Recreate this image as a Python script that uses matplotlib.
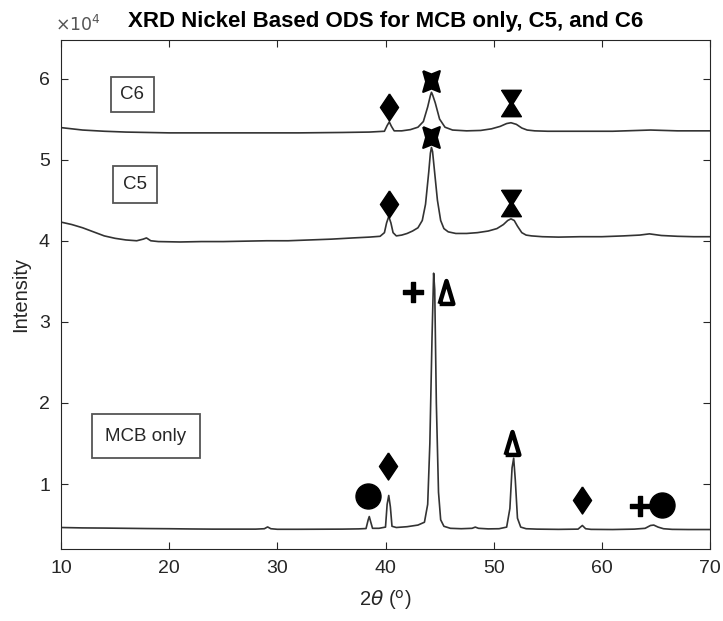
import matplotlib
matplotlib.use("Agg")
import matplotlib.pyplot as plt
from matplotlib.path import Path
from matplotlib.markers import MarkerStyle
from matplotlib.ticker import FuncFormatter

plt.rcParams['font.family'] = ['Liberation Sans', 'DejaVu Sans']

# ---- data (2theta in degrees, intensity in counts) ----
mcb_x = [10, 12, 14, 16, 18, 20, 22, 24, 26, 28, 28.8, 29.1, 29.4, 30, 32, 34, 36,
         37.5, 38.2, 38.4, 38.5, 38.6, 38.8, 39.4, 40.0, 40.15, 40.3, 40.45, 40.6,
         41.0, 42.0, 43.0, 43.6, 43.9, 44.1, 44.3, 44.45, 44.55, 44.7, 44.9, 45.1,
         45.4, 46, 47, 48, 48.3, 48.6, 49.5, 50.5, 51.2, 51.5, 51.7, 51.85, 52.0,
         52.2, 52.5, 53, 54, 56, 57.8, 58.2, 58.5, 59, 61, 63, 64.0, 64.5, 64.8,
         65.2, 65.7, 66.5, 68, 70]
mcb_y = [4650, 4600, 4580, 4550, 4520, 4500, 4470, 4450, 4450, 4450, 4500, 4720, 4500,
         4430, 4430, 4440, 4450, 4480, 4520, 5600, 6000, 5500, 4550, 4550, 4700, 7500,
         8600, 7200, 4800, 4650, 4750, 4950, 5300, 7500, 15000, 28000, 36000, 34000,
         20000, 9000, 5600, 4800, 4550, 4500, 4550, 4700, 4550, 4480, 4500, 4700, 7000,
         12000, 13200, 10500, 5800, 4700, 4500, 4450, 4420, 4450, 4900, 4500, 4420,
         4400, 4450, 4550, 4900, 4950, 4700, 4500, 4420, 4400, 4400]

c5_x = [10, 11, 12, 13, 14, 15, 16, 17, 17.6, 17.9, 18.3, 19, 21, 23, 25, 27, 29, 31,
        33, 35, 37, 38.5, 39.5, 39.9, 40.1, 40.3, 40.5, 40.7, 41.0, 41.5, 42.0, 42.5,
        43.0, 43.4, 43.7, 44.0, 44.15, 44.25, 44.35, 44.5, 44.8, 45.1, 45.4, 45.8, 46.5,
        47.5, 48.5, 49.5, 50.3, 50.9, 51.3, 51.6, 51.9, 52.2, 52.6, 53.0, 53.5, 54.5,
        56, 58, 60, 62, 63.5, 64.4, 65.5, 67, 68.5, 70]
c5_y = [42300, 42000, 41600, 41100, 40600, 40300, 40100, 40000, 40200, 40350, 40000,
        39900, 39850, 39900, 39900, 39950, 40000, 40000, 40100, 40200, 40350, 40450,
        40550, 41000, 42200, 43000, 42200, 41000, 40600, 40700, 40900, 41200, 41600,
        42500, 44500, 48500, 50800, 51500, 51000, 49000, 45000, 42500, 41500, 41100,
        40900, 40900, 41000, 41200, 41500, 42000, 42500, 42700, 42500, 41800, 41000,
        40700, 40600, 40500, 40450, 40500, 40500, 40600, 40700, 40850, 40650, 40550,
        40500, 40500]

c6_x = [10, 11, 12, 14, 16, 18, 20, 24, 28, 32, 36, 38.5, 39.9, 40.15, 40.35, 40.55,
        40.8, 41.5, 42.3, 43.0, 43.5, 43.9, 44.15, 44.25, 44.35, 44.6, 45.0, 45.5, 46.2,
        47.5, 48.8, 49.8, 50.6, 51.2, 51.6, 52.1, 52.6, 53.1, 53.8, 55, 58, 61, 64.5,
        67, 70]
c6_y = [53950, 53800, 53650, 53500, 53400, 53350, 53300, 53300, 53300, 53300, 53350,
        53400, 53500, 54200, 54650, 54100, 53550, 53550, 53700, 54000, 54700, 56500,
        57900, 58300, 58000, 57000, 55000, 54000, 53650, 53550, 53600, 53800, 54100,
        54450, 54550, 54350, 53900, 53650, 53550, 53500, 53500, 53500, 53650, 53550,
        53550]

# phase markers
circle_x, circle_y = [38.4, 65.6], [8500, 7400]
diamond_x, diamond_y = [40.26, 58.18, 40.34, 40.34], [12260, 8030, 44530, 56520]
plus_x, plus_y = [42.56, 63.5], [33640, 7290]
tri_x, tri_y = [45.58, 51.74], [33640, 15020]
cross_x, cross_y = [44.17, 44.17], [52750, 59730]
hglass_x, hglass_y = [51.56, 51.56], [44690, 56940]

labels = ['C6', 'C5', 'MCB only']

# ---- marker shapes ----
diamond = Path([(0, 1), (0.67, 0), (0, -1), (-0.67, 0), (0, 1)])
plus = Path([(-0.22, 1), (0.22, 1), (0.22, 0.22), (1, 0.22), (1, -0.22), (0.22, -0.22),
             (0.22, -1), (-0.22, -1), (-0.22, -0.22), (-1, -0.22), (-1, 0.22),
             (-0.22, 0.22), (-0.22, 1)])
tri = Path([(-0.6, -1), (0.6, -1), (0, 1), (-0.6, -1)])
cross = Path([(-0.8, 1), (0, 0.68), (0.8, 1), (0.52, 0), (0.8, -1), (0, -0.68),
              (-0.8, -1), (-0.52, 0), (-0.8, 1)])
hglass = Path([(-0.75, 1), (0.75, 1), (0.12, 0), (0.75, -1), (-0.75, -1), (-0.12, 0),
               (-0.75, 1)])

fig = plt.figure(figsize=(7.23, 6.21), dpi=100)
ax = fig.add_axes([61 / 723, 1 - 549 / 621, 649 / 723, 509 / 621])

line_kw = dict(color='#333333', lw=1.2)
ax.plot(mcb_x, mcb_y, **line_kw)
ax.plot(c5_x, c5_y, **line_kw)
ax.plot(c6_x, c6_y, **line_kw)

mk = dict(ls='none', color='black', mec='black')
ax.plot(circle_x, circle_y, marker='o', ms=18, **mk)
ax.plot(diamond_x, diamond_y, marker=diamond, ms=19.5, **mk)
ax.plot(plus_x, plus_y, marker=plus, ms=14, **mk)
ax.plot(cross_x, cross_y, marker=MarkerStyle(cross, joinstyle='round'), ms=15, mew=1.5, **mk)
ax.plot(hglass_x, hglass_y, marker=MarkerStyle(hglass, joinstyle='round'), ms=19, **mk)
ax.plot(tri_x, tri_y, marker=MarkerStyle(tri, joinstyle='round'), ms=16.5, ls='none',
        mfc='white', mec='black', mew=3.2)

ax.set_xlim(10, 70)
ax.set_ylim(2000, 64750)
ax.set_xticks(range(10, 71, 10))
ax.set_yticks([10000, 20000, 30000, 40000, 50000, 60000])
ax.yaxis.set_major_formatter(FuncFormatter(lambda v, p: f'{v / 1e4:g}'))

axc = '#262626'
for s in ax.spines.values():
    s.set_color(axc)
    s.set_linewidth(0.8)
ax.tick_params(direction='in', length=5, width=0.8, colors=axc, labelsize=14,
               top=True, right=True, pad=8)

ax.set_xlabel(r'2$\theta$ ($^{\rm o}$)', fontsize=14.5, color=axc, labelpad=8)
ax.set_ylabel('Intensity', fontsize=14.5, color=axc, labelpad=6)
ax.set_title('XRD Nickel Based ODS for MCB only, C5, and C6', fontsize=16,
             fontweight='bold', pad=9)
ax.text(-0.01, 1.012, r'$\times10^{4}$', transform=ax.transAxes, ha='left', va='bottom',
        fontsize=12.5, color='#555555')

pos = [(0.110, 0.893), (0.114, 0.716), (0.131, 0.222)]
pads = [0.5, 0.55, 0.7]
for t, (px, py), pd in zip(labels, pos, pads):
    ax.text(px, py, t, transform=ax.transAxes, ha='center', va='center',
            fontsize=13.5, color='#262626',
            bbox=dict(boxstyle=f'square,pad={pd}', fc='white', ec='#555555', lw=1.3))

fig.savefig('out.png', dpi=100)
